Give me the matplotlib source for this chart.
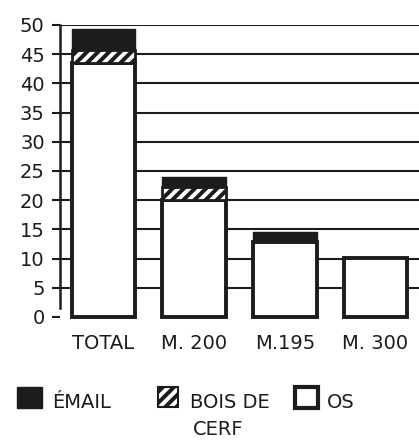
import matplotlib
matplotlib.use('Agg')
import matplotlib.pyplot as plt
from matplotlib.patches import Rectangle
import numpy as np

categories = ['TOTAL', 'M. 200', 'M.195', 'M. 300']
os_vals = [43.5, 20.0, 12.8, 10.1]
bois_vals = [2.2, 2.3, 0.0, 0.0]
email_vals = [3.6, 1.7, 1.8, 0.0]
yticks = list(range(0, 55, 5))

INK = '#1c1c1c'
plt.rcParams['font.family'] = ['DejaVu Sans']
plt.rcParams['hatch.linewidth'] = 2.8
FS = 14

fig = plt.figure(figsize=(4.19, 4.41), dpi=100)
ax = fig.add_axes([60/419, 1-317/441, 1-60/419, (317-25)/441])

x = np.arange(len(categories))
w = 0.70
os_arr = np.array(os_vals)
bois_arr = np.array(bois_vals)
email_arr = np.array(email_vals)

# os: white boxes with thick outline
ax.bar(x, os_arr, w, color='white', edgecolor=INK, linewidth=2.8, zorder=3, clip_on=False)

# bois de cerf: black with white diagonal stripes
has_bois = bois_arr > 0
ax.bar(x[has_bois], bois_arr[has_bois], w, bottom=os_arr[has_bois], color=INK,
       edgecolor='white', hatch='///', linewidth=0, zorder=3)
ax.bar(x[has_bois], bois_arr[has_bois], w, bottom=os_arr[has_bois], fill=False,
       edgecolor=INK, linewidth=2.0, zorder=4)

# email: solid black
has_email = email_arr > 0
ax.bar(x[has_email], email_arr[has_email], w, bottom=(os_arr + bois_arr)[has_email],
       color=INK, edgecolor=INK, linewidth=1.0, zorder=4)

ax.set_xlim(-0.48, 3.48)
ax.set_ylim(0, 50)
ax.set_yticks(yticks)
ax.set_xticks(x)
ax.set_xticklabels(categories)

ax.grid(axis='y', color=INK, linewidth=1.5, zorder=1)
ax.yaxis.get_gridlines()[0].set_visible(False)
ax.set_axisbelow(True)

for s in ['top', 'right', 'bottom']:
    ax.spines[s].set_visible(False)
ax.spines['left'].set_color(INK)
ax.spines['left'].set_linewidth(1.8)
ax.spines['left'].set_bounds(1.5, 50)

ax.tick_params(axis='y', direction='out', length=6, width=1.5, color=INK,
               labelsize=FS, labelcolor=INK, pad=5)
ax.tick_params(axis='x', length=0, labelsize=FS, labelcolor=INK, pad=12)

# legend drawn below the axes
def fx(px):
    return px / 419

def fy(py):
    return 1 - py / 441

fig.add_artist(Rectangle((fx(17), fy(408)), fx(42) - fx(17), fy(387) - fy(408),
                         transform=fig.transFigure, facecolor=INK, edgecolor=INK))
fig.text(fx(52), fy(408), 'ÉMAIL', fontsize=FS, color=INK, va='baseline')

fig.add_artist(Rectangle((fx(158), fy(407)), fx(178) - fx(158), fy(387) - fy(407),
                         transform=fig.transFigure, facecolor=INK, edgecolor='white',
                         hatch='///', linewidth=0))
fig.add_artist(Rectangle((fx(158), fy(407)), fx(178) - fx(158), fy(387) - fy(407),
                         transform=fig.transFigure, fill=False, edgecolor=INK, linewidth=1.5))
fig.text(fx(190), fy(408), 'BOIS DE', fontsize=FS, color=INK, va='baseline')
fig.text(fx(193), fy(435), 'CERF', fontsize=FS, color=INK, va='baseline')

fig.add_artist(Rectangle((fx(295), fy(408)), fx(318) - fx(295), fy(387) - fy(408),
                         transform=fig.transFigure, facecolor='white', edgecolor=INK,
                         linewidth=3.0))
fig.text(fx(327), fy(408), 'OS', fontsize=FS, color=INK, va='baseline')

fig.savefig('out.png', dpi=100)
